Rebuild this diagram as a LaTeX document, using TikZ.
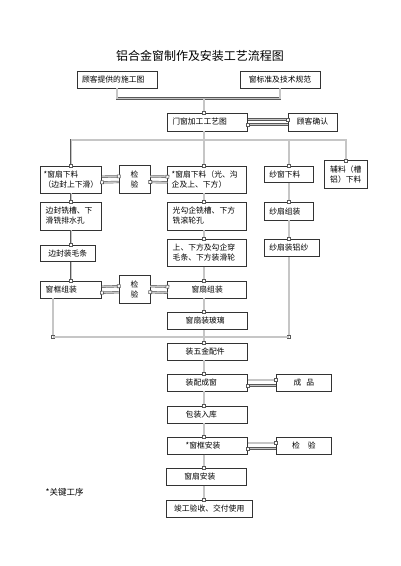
\documentclass[tikz,border=0pt]{standalone}
\usepackage{fontspec}
\newfontfamily\cjk{Noto Sans CJK SC}
\usepackage{tikz}
\usetikzlibrary{arrows.meta}
\usetikzlibrary{calc}

\tikzset{
  box/.style={draw=black!80, fill=white, line width=0.5pt, inner sep=2pt,
    font=\cjk\fontsize{7.8}{10}\selectfont, minimum height=17pt},
  lbox/.style={box, align=left, inner xsep=5pt},
  mid/.style={box, align=left, text width=44pt, inner xsep=18pt},
  pipe/.style={draw=gray!70!black, line width=0.45pt, double=gray!45, double distance=1.4pt},
  sq/.style={-{Square[length=3.6pt, width=3.6pt, fill=white, line width=0.6pt]}, shorten >=-1.8pt},
}

\begin{document}
\begin{tikzpicture}[x=1pt, y=-1pt]
\useasboundingbox (0,0) rectangle (400,566);
\node[font=\cjk\fontsize{12}{14}\selectfont] (title) at (200,56) {铝合金窗制作及安装工艺流程图};

% upper part
\node[lbox, text width=70pt] (src) at (117,79.5) {顾客提供的施工图};
\node[box, minimum width=80pt] (std) at (280,79.5) {窗标准及技术规范};
\node[lbox, text width=70pt, minimum height=18pt] (proc) at (207.3,122) {门窗加工工艺图};
\node[box, minimum width=49pt, minimum height=18pt] (ok) at (312.5,122) {顾客确认};

\node[lbox, text width=55pt, inner xsep=3pt, minimum height=27pt] (cutL) at (71.2,179.5) {*窗扇下料\\（边封上下滑）};
\node[box, minimum width=31pt, minimum height=28pt, align=center] (chk1) at (134.5,179.2) {检\\验};
\node[lbox, text width=71pt, inner xsep=4pt, minimum height=27pt] (cutC) at (207.2,179.5) {*窗扇下料（光、沟\\企及上、下方）};
\node[lbox, text width=39pt, minimum height=16.7pt] (scut) at (288.8,174.3) {纱窗下料};
\node[box, minimum width=43pt, minimum height=27.6pt, align=left] (aux) at (345.8,174.5) {辅料（槽\\铝）下料};

\node[lbox, text width=51pt, minimum height=28pt] (millL) at (71.2,216) {边封铣槽、下\\滑铣排水孔};
\node[lbox, text width=69pt, minimum height=28pt] (millC) at (207.2,216) {光勾企铣槽、下方\\铣滚轮孔};
\node[lbox, text width=39pt, minimum height=17.7pt] (sasm) at (288.8,211.2) {纱扇组装};

\node[box, minimum width=54.3pt, minimum height=16.7pt] (brushL) at (67.8,253.3) {边封装毛条};
\node[lbox, text width=69pt, minimum height=27.4pt] (brushC) at (207.2,253) {上、下方及勾企穿\\毛条、下方装滑轮};
\node[lbox, text width=45pt, minimum height=17.4pt] (smesh) at (291.8,248) {纱扇装铝纱};

\node[lbox, text width=51pt] (frame) at (71.2,289.7) {窗框组装};
\node[box, minimum width=31pt, minimum height=28.3pt, align=center] (chk2) at (134.5,289.2) {检\\验};
\node[box, minimum width=79pt] (sash) at (207.2,289.7) {窗扇组装};
\node[mid] (glass) at (207.7,321) {窗扇装玻璃};

% lower part
\node[mid] (hw) at (207.7,351.7) {装五金配件};
\node[mid] (fit) at (207.7,382.7) {装配成窗};
\node[box, minimum width=55.7pt] (prod) at (303.8,382.7) {成\hspace{5pt}品};
\node[mid] (pack) at (207.7,414.3) {包装入库};
\node[mid] (finst) at (207.7,445.8) {*窗框安装};
\node[box, minimum width=55.7pt] (chk3) at (303.8,445.8) {检\hspace{8pt}验};
\node[mid, minimum width=80.7pt] (sinst) at (206.3,477) {窗扇安装};
\node[box, minimum width=86.3pt] (fin) at (209.2,508.7) {竣工验收、交付使用};
\node[anchor=west, font=\cjk\fontsize{8.5}{10}\selectfont] (key) at (42,492.3) {*关键工序};

\coordinate (spine) at (204,0);
\coordinate (tj) at (204,98.5);
\coordinate (bar) at (204,140);
\coordinate (jl) at (53,337);
\coordinate (jr) at (288.8,337);

% pipes
\draw[pipe] (src.south) |- (tj) -| (std.south);
\draw[pipe, sq] (tj) -- (proc.north -| spine);
\draw[pipe, sq] ([yshift=2.5pt]proc.east) -- ([yshift=2.5pt]ok.west);
\draw[pipe, sq] ([yshift=-2.5pt]ok.west) -- ([yshift=-2.5pt]proc.east);
\draw[pipe] (proc.south -| spine) -- (bar);
\draw[pipe, sq] (bar) -| (cutL.north);
\draw[pipe, sq] (bar) -| (aux.north);
\draw[pipe, sq] (bar) -| (scut.north);
\draw[pipe, sq] (bar) -- (cutC.north -| spine);

\draw[pipe, sq] ([yshift=2.8pt]cutL.east) -- ([yshift=2.8pt]chk1.west);
\draw[pipe, sq] ([yshift=-2.8pt]chk1.west) -- ([yshift=-2.8pt]cutL.east);
\draw[pipe, sq] ([yshift=2.8pt]chk1.east) -- ([yshift=2.8pt]cutC.west);
\draw[pipe, sq] ([yshift=-2.8pt]cutC.west) -- ([yshift=-2.8pt]chk1.east);

\draw[pipe, sq] (cutL) -- (millL);
\draw[pipe, sq] (millL.south) -- (brushL.north -| millL.south);
\draw[pipe, sq] (brushL.south -| frame.north) -- (frame.north);

\draw[pipe, sq] (cutC.south -| spine) -- (millC.north -| spine);
\draw[pipe, sq] (millC.south -| spine) -- (brushC.north -| spine);
\draw[pipe, sq] (brushC.south -| spine) -- (sash.north -| spine);
\draw[pipe, sq] (sash.south -| spine) -- (glass.north -| spine);

\draw[pipe, sq] (scut) -- (sasm);
\draw[pipe, sq] (sasm.south) -- (smesh.north -| sasm.south);

\draw[pipe, sq] ([yshift=3pt]frame.east) -- ([yshift=3pt]chk2.west);
\draw[pipe, sq] ([yshift=-3pt]chk2.west) -- ([yshift=-3pt]frame.east);
\draw[pipe, sq] ([yshift=3pt]chk2.east) -- ([yshift=3pt]sash.west);
\draw[pipe, sq] ([yshift=-3pt]sash.west) -- ([yshift=-3pt]chk2.east);

% join
\draw[pipe, sq] (frame.south -| jl) -- (jl);
\draw[pipe, sq] (smesh.south -| jr) -- (jr);
\draw[pipe] (jl) -- (jr);
\draw[pipe, sq] (glass.south -| spine) -- (hw.north -| spine);

\draw[pipe, sq] (hw.south -| spine) -- (fit.north -| spine);
\draw[pipe, sq] ([yshift=2.7pt]fit.east) -- ([yshift=2.7pt]prod.west);
\draw[pipe, sq] ([yshift=-2.7pt]prod.west) -- ([yshift=-2.7pt]fit.east);
\draw[pipe, sq] (fit.south -| spine) -- (pack.north -| spine);
\draw[pipe, sq] (pack.south -| spine) -- (finst.north -| spine);
\draw[pipe, sq] ([yshift=2.7pt]finst.east) -- ([yshift=2.7pt]chk3.west);
\draw[pipe, sq] ([yshift=-2.7pt]chk3.west) -- ([yshift=-2.7pt]finst.east);
\draw[pipe, sq] (finst.south -| spine) -- (sinst.north -| spine);
\draw[pipe, sq] (sinst.south -| spine) -- (fin.north -| spine);
\end{tikzpicture}
\end{document}
